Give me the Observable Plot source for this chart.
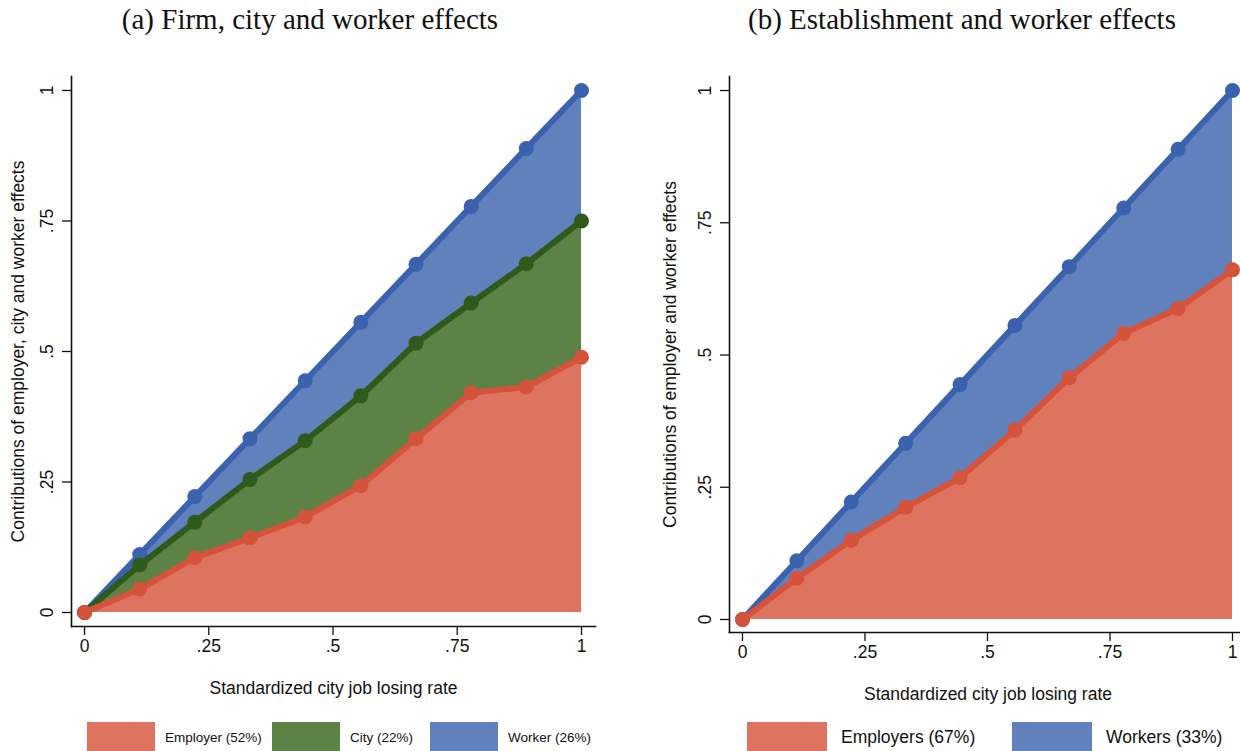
<!DOCTYPE html>
<html>
<head>
<meta charset="utf-8">
<script src="https://cdn.jsdelivr.net/npm/d3@7"></script>
<script src="https://cdn.jsdelivr.net/npm/@observablehq/plot@0.6"></script>
<style>
  html, body { margin: 0; padding: 0; background: #fff; }
  body { width: 1240px; height: 751px; position: relative; overflow: hidden; }
  .title { position: absolute; top: 3px; font-family: "Liberation Serif", serif; font-size: 29px; color: #111; text-align: center; width: 620px; white-space: nowrap; }
  .panel { position: absolute; top: 40px; width: 620px; }
  .panel svg { max-width: none !important; }
  .legend { position: absolute; top: 722px; font-family: "Liberation Sans", Arial, sans-serif; color: #111; }
  .legend .item { position: absolute; top: 0; display: flex; align-items: center; white-space: nowrap; }
  .legend .swatch { display: inline-block; height: 29px; }
</style>
</head>
<body>
<div class="title" style="left:0">(a) Firm, city and worker effects</div>
<div class="title" style="left:652px">(b) Establishment and worker effects</div>
<div id="panelA" class="panel" style="left:0"></div>
<div id="panelB" class="panel" style="left:630px"></div>
<div id="legendA" class="legend" style="left:0"></div>
<div id="legendB" class="legend" style="left:0"></div>
<script>
// Standardized city job losing rate (ten bins)
const rate = [0, 0.111, 0.222, 0.333, 0.444, 0.556, 0.667, 0.778, 0.889, 1];

// Panel (a): cumulative contributions — employer, employer + city, total (employer + city + worker)
const employerA = [0, 0.045, 0.105, 0.143, 0.183, 0.243, 0.333, 0.421, 0.432, 0.489];
const cityA     = [0, 0.091, 0.173, 0.255, 0.329, 0.415, 0.516, 0.593, 0.668, 0.750];
const workerA   = [0, 0.111, 0.222, 0.333, 0.444, 0.556, 0.667, 0.778, 0.889, 1];

// Panel (b): cumulative contributions — establishment, total (establishment + worker)
const employerB = [0, 0.078, 0.150, 0.212, 0.268, 0.358, 0.457, 0.541, 0.588, 0.661];
const workerB   = [0, 0.111, 0.222, 0.333, 0.444, 0.556, 0.667, 0.778, 0.889, 1];

const ticks = [0, 0.25, 0.5, 0.75, 1];
const tickLabels = ["0", ".25", ".5", ".75", "1"];

const legendA = ["Employer (52%)", "City (22%)", "Worker (26%)"];
const legendB = ["Employers (67%)", "Workers (33%)"];

const xTitle = "Standardized city job losing rate";
const yTitleA = "Contributions of employer, city and worker effects";
const yTitleB = "Contributions of employer and worker effects";

const colors = {
  red:   {fill: "#de745f", line: "#d4533a"},
  green: {fill: "#5c8246", line: "#2f5a1b"},
  blue:  {fill: "#6181bd", line: "#3a62af"}
};

const fmt = d => tickLabels[ticks.indexOf(d)];
const axisFont = 17.5;

function series(rows, key, c) {
  return [
    Plot.line(rows, {x: "x", y: key, stroke: c.line, strokeWidth: 6, strokeLinejoin: "round"}),
    Plot.dot(rows, {x: "x", y: key, r: 7.5, fill: c.line, stroke: "none"})
  ];
}

function panel({rows, bands, lines, yTitle, width, margins, xDomain, yDomain, yLabelOffset}) {
  return Plot.plot({
    width, height: 670,
    ...margins,
    style: {fontFamily: "'Liberation Sans', Arial, sans-serif", fontSize: axisFont + "px", color: "#111", background: "transparent", overflow: "visible"},
    x: {domain: xDomain, ticks, tickFormat: fmt},
    y: {domain: yDomain, ticks, tickFormat: fmt},
    marks: [
      ...bands.map(([key, c]) => Plot.areaY(rows, {x: "x", y1: 0, y2: key, fill: c.fill})),
      ...lines.flatMap(([key, c]) => series(rows, key, c)),
      Plot.axisX({ticks, tickFormat: fmt, tickSize: 9, tickPadding: 4, fontSize: axisFont, label: xTitle, labelAnchor: "center", labelOffset: 67, labelArrow: "none", strokeWidth: 1.3}),
      Plot.axisY({ticks, tickFormat: fmt, tickSize: 9, tickPadding: 10, fontSize: axisFont, tickRotate: -90, label: yTitle, labelAnchor: "center", labelOffset: yLabelOffset, labelArrow: "none", strokeWidth: 1.3}),
      Plot.frame({anchor: "left", strokeWidth: 1.6}),
      Plot.frame({anchor: "bottom", strokeWidth: 1.6})
    ]
  });
}

const rowsA = rate.map((x, i) => ({x, employer: employerA[i], city: cityA[i], worker: workerA[i]}));
const rowsB = rate.map((x, i) => ({x, employer: employerB[i], worker: workerB[i]}));

document.getElementById("panelA").append(panel({
  rows: rowsA,
  bands: [["worker", colors.blue], ["city", colors.green], ["employer", colors.red]],
  lines: [["worker", colors.blue], ["city", colors.green], ["employer", colors.red]],
  yTitle: yTitleA,
  width: 620,
  margins: {marginLeft: 71, marginRight: 25, marginTop: 36, marginBottom: 84},
  xDomain: [-0.0262, 1.0282],
  yDomain: [-0.0268, 1.0268],
  yLabelOffset: 60
}));

document.getElementById("panelB").append(panel({
  rows: rowsB,
  bands: [["worker", colors.blue], ["employer", colors.red]],
  lines: [["worker", colors.blue], ["employer", colors.red]],
  yTitle: yTitleB,
  width: 620,
  margins: {marginLeft: 99, marginRight: 4, marginTop: 36, marginBottom: 78},
  xDomain: [-0.0265, 1.0286],
  yDomain: [-0.0246, 1.0265],
  yLabelOffset: 66
}));

// Legends drawn as colored swatches with labels
function legend(el, items) {
  for (const it of items) {
    const d = document.createElement("div");
    d.className = "item";
    d.style.left = it.left + "px";
    d.style.fontSize = it.size + "px";
    const s = document.createElement("span");
    s.className = "swatch";
    s.style.width = it.w + "px";
    s.style.background = it.color;
    const t = document.createElement("span");
    t.textContent = it.label;
    t.style.marginLeft = it.gap + "px";
    t.style.paddingTop = "2px";
    d.append(s, t);
    el.append(d);
  }
}
legend(document.getElementById("legendA"), [
  {label: legendA[0], color: colors.red.fill,   left: 87,  w: 68, gap: 10, size: 13.5},
  {label: legendA[1], color: colors.green.fill, left: 272, w: 68, gap: 10, size: 13.5},
  {label: legendA[2], color: colors.blue.fill,  left: 430, w: 68, gap: 10, size: 13.5}
]);
legend(document.getElementById("legendB"), [
  {label: legendB[0], color: colors.red.fill,  left: 747,  w: 80, gap: 14, size: 17.5},
  {label: legendB[1], color: colors.blue.fill, left: 1012, w: 80, gap: 14, size: 17.5}
]);
</script>
</body>
</html>
